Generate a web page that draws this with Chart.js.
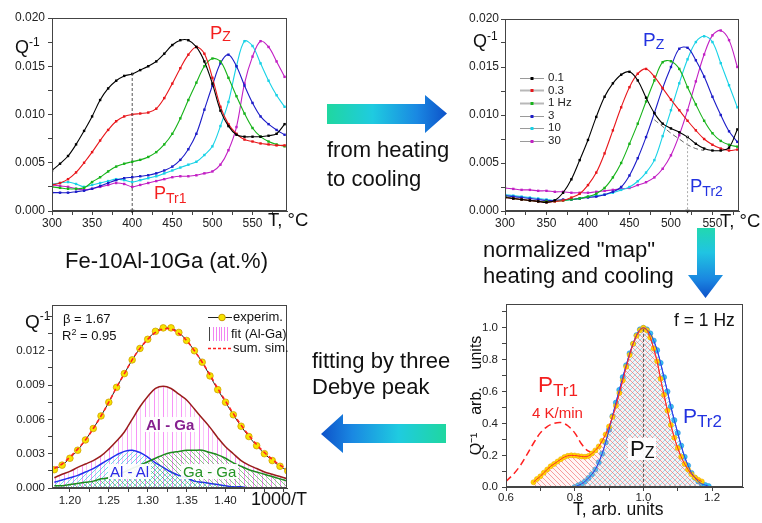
<!DOCTYPE html>
<html>
<head>
<meta charset="utf-8">
<title>Fe-10Al-10Ga internal friction</title>
<script src="https://cdn.jsdelivr.net/npm/chart.js@4.4.1/dist/chart.umd.min.js"></script>
<style>
html, body { margin: 0; padding: 0; background: #fff; }
#fig { position: relative; width: 762px; height: 523px; overflow: hidden;
       font-family: "Liberation Sans", Arial, Helvetica, sans-serif; color: #111; }
#fig canvas { position: absolute; z-index: 1; }
.t { position: absolute; white-space: nowrap; line-height: 1; z-index: 2; }
.lb { position: relative; }
.wb { background: rgba(255,255,255,0.92); padding: 0 2px; }
.yl { position: absolute; white-space: nowrap; line-height: 1; z-index: 3; font-size: 11.5px; color: #222; text-align: right; }
</style>
</head>
<body>
<div id="fig">
  <canvas id="cHeat" width="300" height="235" style="left:0px;top:0px"></canvas>
  <canvas id="cCool" width="302" height="235" style="left:460px;top:0px"></canvas>
  <canvas id="cFit" width="300" height="233" style="left:0px;top:290px"></canvas>
  <canvas id="cMap" width="292" height="228" style="left:470px;top:295px"></canvas>

  <svg width="762" height="523" style="position:absolute;left:0;top:0;pointer-events:none;z-index:1">
    <defs>
      <linearGradient id="gRight" gradientUnits="userSpaceOnUse" x1="327" y1="0" x2="447" y2="0">
        <stop offset="0" stop-color="#1fd7a0"/>
        <stop offset="0.38" stop-color="#1fcbe0"/>
        <stop offset="0.75" stop-color="#1a88e2"/>
        <stop offset="1" stop-color="#0d52c9"/>
      </linearGradient>
      <linearGradient id="gDown" gradientUnits="userSpaceOnUse" x1="0" y1="228" x2="0" y2="298">
        <stop offset="0" stop-color="#22d8b0"/>
        <stop offset="0.35" stop-color="#20c4e2"/>
        <stop offset="0.75" stop-color="#1a84e0"/>
        <stop offset="1" stop-color="#0d50c8"/>
      </linearGradient>
      <linearGradient id="gLeft" gradientUnits="userSpaceOnUse" x1="446" y1="0" x2="321" y2="0">
        <stop offset="0" stop-color="#1fd7a0"/>
        <stop offset="0.38" stop-color="#1fcbe0"/>
        <stop offset="0.75" stop-color="#1a88e2"/>
        <stop offset="1" stop-color="#0d52c9"/>
      </linearGradient>
    </defs>
    <polygon points="327,104 425,104 425,95 447,113.5 425,133 425,124 327,124" fill="url(#gRight)"/>
    <polygon points="697,228 715,228 715,275 723,275 705.5,298 688,275 697,275" fill="url(#gDown)"/>
    <polygon points="446,424 343,424 343,414 321,434 343,453 343,443 446,443" fill="url(#gLeft)"/>
  </svg>

  <!-- heating panel labels -->
  <div class="t" style="left:15px;top:38px;font-size:18px">Q<span class="lb" style="font-size:12px;top:-7px">-1</span></div>
  <div class="t" style="left:210px;top:24px;font-size:18.5px;color:#f41f1f">P<span class="lb" style="font-size:14px;top:2px">Z</span></div>
  <div class="t" style="left:154px;top:184px;font-size:18px;color:#f41f1f">P<span class="lb" style="font-size:14px;top:4px">Tr1</span></div>
  <div class="t" style="left:268px;top:211px;font-size:18.5px">T, °C</div>

  <!-- cooling panel labels -->
  <div class="t" style="left:473px;top:32px;font-size:18px">Q<span class="lb" style="font-size:12px;top:-7px">-1</span></div>
  <div class="t" style="left:643px;top:30px;font-size:19px;color:#2232e0">P<span class="lb" style="font-size:14px;top:3px">Z</span></div>
  <div class="t" style="left:690px;top:177px;font-size:18.5px;color:#2232e0">P<span class="lb" style="font-size:14px;top:4px">Tr2</span></div>
  <div class="t" style="left:720px;top:212px;font-size:18.5px">T, °C</div>
  <div class="t" style="left:548px;top:72px;font-size:11.5px;color:#222">0.1</div>
  <div class="t" style="left:548px;top:84.5px;font-size:11.5px;color:#222">0.3</div>
  <div class="t" style="left:548px;top:97px;font-size:11.5px;color:#222">1 Hz</div>
  <div class="t" style="left:548px;top:109.5px;font-size:11.5px;color:#222">3</div>
  <div class="t" style="left:548px;top:122px;font-size:11.5px;color:#222">10</div>
  <div class="t" style="left:548px;top:135px;font-size:11.5px;color:#222">30</div>

  <!-- captions between the panels -->
  <div class="t" style="left:327px;top:139px;font-size:22px">from heating</div>
  <div class="t" style="left:327px;top:168px;font-size:22px">to cooling</div>
  <div class="t" style="left:65px;top:250px;font-size:22px">Fe-10Al-10Ga (at.%)</div>
  <div class="t" style="left:483px;top:239px;font-size:22px">normalized "map"</div>
  <div class="t" style="left:483px;top:265px;font-size:22px">heating and cooling</div>
  <div class="t" style="left:312px;top:350px;font-size:22px">fitting by three</div>
  <div class="t" style="left:312px;top:376px;font-size:22px">Debye peak</div>

  <!-- fit panel labels -->
  <div class="t" style="left:25px;top:312px;font-size:19px">Q<span class="lb" style="font-size:12px;top:-8px">-1</span></div>
  <div class="t" style="left:63px;top:312px;font-size:13px">β = 1.67</div>
  <div class="t" style="left:62px;top:329px;font-size:13px">R<span class="lb" style="font-size:9px;top:-5px">2</span> = 0.95</div>
  <div class="t" style="left:233px;top:309.5px;font-size:13px">experim.</div>
  <div class="t" style="left:231px;top:326.5px;font-size:13px">fit (Al-Ga)</div>
  <div class="t" style="left:233px;top:340.5px;font-size:13px">sum. sim.</div>
  <div class="t wb" style="left:144px;top:417px;font-size:15px;font-weight:bold;color:#86208f">Al - Ga</div>
  <div class="t wb" style="left:108px;top:464px;font-size:15px;color:#2a2ae6">Al - Al</div>
  <div class="t wb" style="left:181px;top:464px;font-size:15px;color:#259325">Ga - Ga</div>
  <div class="t" style="left:251px;top:490px;font-size:18px">1000/T</div>

  <!-- normalized map labels -->
  <div class="t" style="left:674px;top:312px;font-size:17.5px">f = 1 Hz</div>
  <div class="t" style="left:538px;top:374px;font-size:22.5px;color:#f41f1f">P<span class="lb" style="font-size:17px;top:4px">Tr1</span></div>
  <div class="t" style="left:532px;top:405px;font-size:15px;color:#f41f1f">4 K/min</div>
  <div class="t" style="left:683px;top:405px;font-size:21px;color:#2232e0">P<span class="lb" style="font-size:17px;top:3.5px">Tr2</span></div>
  <div class="t wb" style="left:628px;top:438px;font-size:22px">P<span class="lb" style="font-size:16px;top:1.5px">Z</span></div>
  <div class="t" style="left:573px;top:501px;font-size:17.5px">T, arb. units</div>
</div>

<script>
// ---------- heating run: internal friction vs temperature ----------
const heatT = [300,310,320,330,340,350,360,370,380,390,400,410,420,430,440,450,460,470,480,490,500,510,520,530,540,550,560,570,580,590];
const heat0_1Hz = [.0042,.0049,.0057,.0069,.0083,.0098,.0115,.0127,.0135,.0140,.0142,.0146,.0150,.0155,.0163,.0172,.0177,.0177,.0170,.0155,.0132,.0104,.0088,.0079,.0077,.0077,.0077,.0078,.0080,.0090];
const heat0_3Hz = [.0027,.0029,.0033,.0040,.0050,.0061,.0073,.0084,.0093,.0098,.0100,.0101,.0102,.0106,.0117,.0132,.0148,.0162,.0170,.0163,.0138,.0108,.0090,.0080,.0074,.0072,.0070,.0069,.0068,.0068];
const heat1Hz   = [.0025,.0024,.0023,.0023,.0024,.0030,.0035,.0041,.0046,.0049,.0051,.0053,.0056,.0061,.0069,.0080,.0096,.0115,.0133,.0150,.0158,.0155,.0138,.0119,.0101,.0086,.0077,.0072,.0069,.0067];
const heat3Hz   = [.0019,.0019,.0019,.0020,.0021,.0023,.0026,.0029,.0032,.0034,.0035,.0036,.0037,.0039,.0042,.0046,.0053,.0064,.0080,.0105,.0130,.0153,.0162,.0150,.0130,.0112,.0098,.0090,.0084,.0079];
const heat10Hz  = [.0028,.0029,.0030,.0028,.0025,.0027,.0029,.0031,.0033,.0032,.0030,.0032,.0034,.0036,.0039,.0042,.0045,.0048,.0051,.0058,.0067,.0088,.0113,.0150,.0176,.0171,.0153,.0135,.0120,.0108];
const heat30Hz  = [.0027,.0026,.0025,.0023,.0022,.0023,.0025,.0027,.0029,.0028,.0025,.0027,.0029,.0031,.0033,.0035,.0036,.0036,.0037,.0039,.0041,.0048,.0063,.0087,.0132,.0160,.0176,.0170,.0155,.0139];
const trans1T = [400, 400];
const trans1Q = [0.0143, 0];

// ---------- cooling run ----------
const coolT = [300,310,320,330,340,350,360,370,380,390,400,410,420,430,440,450,460,470,480,490,500,510,520,530,540,550,560,570,580];
const cool0_1Hz = [.0014,.0013,.0012,.0011,.0010,.0009,.0011,.0019,.0033,.0053,.0074,.0098,.0119,.0133,.0142,.0145,.0136,.0118,.0102,.0091,.0086,.0082,.0077,.0070,.0065,.0063,.0063,.0066,.0085];
const cool0_3Hz = [.0014,.0013,.0012,.0011,.0010,.0009,.0010,.0011,.0014,.0018,.0027,.0040,.0060,.0084,.0108,.0129,.0143,.0148,.0140,.0128,.0116,.0105,.0094,.0084,.0075,.0069,.0065,.0063,.0064];
const cool1Hz   = [.0015,.0013,.0012,.0011,.0010,.0010,.0010,.0011,.0012,.0013,.0015,.0018,.0024,.0035,.0050,.0070,.0091,.0114,.0136,.0155,.0156,.0148,.0129,.0111,.0094,.0081,.0073,.0069,.0067];
const cool3Hz   = [.0016,.0015,.0014,.0013,.0012,.0011,.0011,.0012,.0012,.0013,.0014,.0015,.0017,.0020,.0025,.0037,.0055,.0077,.0102,.0128,.0150,.0169,.0170,.0157,.0140,.0119,.0100,.0083,.0072];
const cool10Hz  = [.0017,.0016,.0015,.0014,.0013,.0012,.0011,.0011,.0012,.0013,.0015,.0016,.0017,.0019,.0022,.0025,.0031,.0040,.0053,.0078,.0105,.0133,.0158,.0176,.0182,.0176,.0154,.0131,.0108];
const cool30Hz  = [.0024,.0023,.0022,.0022,.0021,.0021,.0020,.0020,.0019,.0019,.0019,.0020,.0021,.0022,.0023,.0024,.0027,.0030,.0035,.0044,.0058,.0079,.0105,.0135,.0163,.0183,.0188,.0178,.0150];
const baseT = [480,490,500,510,520,530,540];
const baseQ = [.0095,.0088,.0081,.0075,.0069,.0065,.0063];
const trans2T = [520, 520];
const trans2Q = [0.0079, 0];
const freqLabels = ['0.1', '0.3', '1 Hz', '3', '10', '30'];

// ---------- Debye-peak decomposition (1000/T) ----------
const invT = [1.18,1.19,1.20,1.21,1.22,1.23,1.24,1.25,1.26,1.27,1.28,1.29,1.30,1.31,1.32,1.33,1.34,1.35,1.36,1.37,1.38,1.39,1.40,1.41,1.42,1.43,1.44,1.45,1.46,1.47,1.48];
const qExperim = [.0016,.0020,.0026,.0033,.0042,.0052,.0063,.0075,.0088,.0100,.0112,.0122,.0130,.0137,.0140,.0140,.0136,.0129,.0120,.0110,.0098,.0086,.0075,.0064,.0054,.0045,.0037,.0030,.0024,.0019,.0015];
const qSumSim  = [.0017,.0021,.0027,.0034,.0042,.0052,.0063,.0075,.0088,.0100,.0112,.0122,.0130,.0136,.0139,.0139,.0135,.0129,.0120,.0110,.0099,.0087,.0076,.0065,.0055,.0046,.0038,.0031,.0025,.0020,.0016];
const qAlGa    = [.0009,.0012,.00145,.0018,.0021,.0024,.0028,.0034,.0041,.0049,.0060,.0071,.0080,.0087,.0089,.0087,.0082,.0077,.0069,.0061,.0053,.0044,.0036,.0030,.0024,.0020,.0017,.0014,.0012,.0010,.0008];
const qAlAl    = [.0005,.0007,.0009,.0011,.0014,.0017,.0021,.0025,.0029,.0032,.0033,.0031,.0027,.0022,.0018,.0014,.0011,.0009,.0006,.0005,.0004,.0003,.0002,.0001,.0001,0,0,0,0,0,0];
const qGaGa    = [.0002,.0002,.0003,.0004,.0005,.0006,.0008,.0009,.0012,.0014,.0017,.0020,.0023,.0026,.0029,.0031,.0032,.0033,.0033,.0033,.0031,.0029,.0026,.0022,.0019,.0016,.0014,.0012,.0010,.0008,.0006];

// ---------- normalized map, f = 1 Hz ----------
const normHeatT = [0.68,0.69,0.70,0.71,0.72,0.73,0.74,0.75,0.76,0.77,0.78,0.79,0.80,0.81,0.82,0.83,0.84,0.85,0.86,0.87,0.88,0.89,0.90,0.91,0.92,0.93,0.94,0.95,0.96,0.97,0.98,0.99,1.00,1.01,1.02,1.03,1.04,1.05,1.06,1.07,1.08,1.09,1.10,1.11,1.12,1.13,1.14,1.15,1.16,1.17];
const normHeatQ = [.03,.05,.067,.09,.11,.13,.145,.16,.175,.188,.196,.199,.198,.195,.192,.19,.195,.21,.23,.255,.29,.33,.38,.44,.51,.59,.67,.755,.83,.90,.95,.985,1.0,.985,.94,.87,.79,.68,.58,.48,.39,.31,.245,.19,.145,.11,.08,.06,.045,.035];
const normCoolT = [0.80,0.81,0.82,0.83,0.84,0.85,0.86,0.87,0.88,0.89,0.90,0.91,0.92,0.93,0.94,0.95,0.96,0.97,0.98,0.99,1.00,1.01,1.02,1.03,1.04,1.05,1.06,1.07,1.08,1.09,1.10,1.11,1.12,1.13,1.14,1.15,1.16,1.17,1.18,1.19];
const normCoolQ = [0,.01,.02,.035,.056,.08,.11,.155,.21,.28,.36,.445,.53,.61,.69,.765,.84,.90,.954,.99,1.0,.99,.965,.92,.86,.78,.69,.60,.505,.42,.34,.26,.19,.135,.088,.058,.035,.02,.012,.005];
const tr1SlowT = [0.60,0.62,0.64,0.66,0.68,0.70,0.72,0.74,0.76,0.78,0.80,0.82,0.84,0.86];
const tr1SlowQ = [.035,.077,.13,.20,.275,.34,.38,.40,.405,.385,.34,.27,.225,.215];
const peakZT = [1, 1];
const peakZQ = [0, 1];

// ---------- tick values and labels ----------
const tempTicks = [300,325,350,375,400,425,450,475,500,525,550,575];
const tempTickLabels = ['300','','350','','400','','450','','500','','550',''];
const qTicks = [0,0.0025,0.005,0.0075,0.01,0.0125,0.015,0.0175,0.02];
const qTickLabels = ['0.000','','0.005','','0.010','','0.015','','0.020'];
const invTTicks = [1.2,1.225,1.25,1.275,1.3,1.325,1.35,1.375,1.4,1.425,1.45,1.475];
const invTTickLabels = ['1.20','','1.25','','1.30','','1.35','','1.40','','',''];
const fitQTicks = [0,0.0015,0.003,0.0045,0.006,0.0075,0.009,0.0105,0.012,0.0135,0.015];
const fitQTickLabels = ['0.000','','0.003','','0.006','','0.009','','0.012','',''];
const normTTicks = [0.6,0.7,0.8,0.9,1.0,1.1,1.2];
const normTTickLabels = ['0.6','','0.8','','1.0','','1.2'];
const normQTicks = [0,0.1,0.2,0.3,0.4,0.5,0.6,0.7,0.8,0.9,1.0,1.1];
const normQTickLabels = ['0.0','','0.2','','0.4','','0.6','','0.8','','1.0',''];

const FONT = '"Liberation Sans", Arial, Helvetica, sans-serif';
const seriesColors = ['#000000', '#e8161b', '#17b31a', '#1c1cc8', '#18d2e6', '#c21fc4'];

const pts = (xs, ys) => xs.map((x, i) => ({ x, y: ys[i] }));

function axis(o) {
  const labelFor = v => {
    const k = o.values.findIndex(t => Math.abs(t - v) < 1e-9);
    return k < 0 ? '' : o.labels[k];
  };
  return {
    type: 'linear', position: o.pos, min: o.min, max: o.max,
    afterBuildTicks: s => { s.ticks = o.values.map(v => ({ value: v })); },
    afterFit: s => { if (o.pos === 'bottom') s.height = o.fit; else s.width = o.fit; },
    grid: { drawOnChartArea: false, drawTicks: true, tickLength: 4, color: '#444', tickColor: '#444', tickWidth: 1 },
    border: { display: true, color: '#444', width: 1 },
    title: o.title ? { display: true, text: o.title, color: '#111', padding: { top: -3, bottom: 0 }, font: { family: FONT, size: 16 } } : { display: false },
    ticks: {
      display: !o.ownLabels, autoSkip: false, maxRotation: 0, padding: o.pad, color: '#222',
      font: { family: FONT, size: o.size },
      callback: v => labelFor(v)
    }
  };
}

const framePlugin = {
  id: 'frame',
  afterDatasetsDraw(chart) {
    const { ctx, chartArea: a } = chart;
    ctx.save();
    ctx.strokeStyle = '#444';
    ctx.lineWidth = 1;
    ctx.strokeRect(Math.round(a.left) + 0.5, Math.round(a.top) + 0.5, Math.round(a.width) - 1, Math.round(a.height) - 1);
    ctx.restore();
  }
};

// Repeating fill tiles: diagonal hatching or vertical bars
function hatch(color, kind, step, tint) {
  const c = document.createElement('canvas');
  c.width = step; c.height = step;
  const g = c.getContext('2d');
  if (tint) { g.fillStyle = tint; g.fillRect(0, 0, step, step); }
  g.strokeStyle = color;
  g.lineWidth = 1;
  g.beginPath();
  if (kind === '/') {
    g.moveTo(0, step); g.lineTo(step, 0);
    g.moveTo(-1, 1); g.lineTo(1, -1);
    g.moveTo(step - 1, step + 1); g.lineTo(step + 1, step - 1);
  } else {
    g.moveTo(0, 0); g.lineTo(step, step);
    g.moveTo(step - 1, -1); g.lineTo(step + 1, 1);
    g.moveTo(-1, step - 1); g.lineTo(1, step + 1);
  }
  g.stroke();
  return g.createPattern(c, 'repeat');
}
function bars() {
  const c = document.createElement('canvas');
  c.width = 9; c.height = 4;
  const g = c.getContext('2d');
  g.fillStyle = 'rgba(245,120,245,0.8)';
  g.fillRect(1, 0, 1, 4);
  g.fillStyle = 'rgba(245,150,245,0.55)';
  g.fillRect(5, 0, 1, 4);
  return g.createPattern(c, 'repeat');
}

function dotted(xs, ys, color) {
  return {
    data: pts(xs, ys), borderColor: color, borderWidth: 1.1, tension: 0.35,
    pointRadius: 1.7, pointStyle: 'rect', pointBackgroundColor: color, pointBorderWidth: 0, fill: false
  };
}

function marker(xs, ys, color, dash) {
  return {
    data: pts(xs, ys), borderColor: color, borderWidth: 1, borderDash: dash, tension: 0,
    pointRadius: [0, 2.6], pointStyle: 'triangle', pointRotation: 180,
    pointBackgroundColor: '#222', pointBorderWidth: 0, fill: false, clip: 8
  };
}

function baseOptions(padding, x, y) {
  return {
    responsive: false, animation: false, devicePixelRatio: 1,
    layout: { padding },
    plugins: { legend: { display: false }, tooltip: { enabled: false } },
    scales: { x, y }
  };
}

// Heating panel
new Chart(document.getElementById('cHeat'), {
  type: 'line',
  data: { datasets: [
    marker(trans1T, trans1Q, '#555', [3, 2]),
    dotted(heatT, heat0_1Hz, seriesColors[0]),
    dotted(heatT, heat0_3Hz, seriesColors[1]),
    dotted(heatT, heat1Hz, seriesColors[2]),
    dotted(heatT, heat3Hz, seriesColors[3]),
    dotted(heatT, heat10Hz, seriesColors[4]),
    dotted(heatT, heat30Hz, seriesColors[5])
  ] },
  options: baseOptions({ left: 0, right: 13, top: 18, bottom: 0 },
    axis({ pos: 'bottom', min: 300, max: 593, values: tempTicks, labels: tempTickLabels, size: 12, fit: 24, pad: 1 }),
    axis({ pos: 'left', min: 0, max: 0.02, values: qTicks, labels: qTickLabels, size: 12, fit: 52, pad: 3 })),
  plugins: [framePlugin]
});

// Cooling panel with its frequency key
const coolKey = {
  id: 'coolKey',
  afterDatasetsDraw(chart) {
    const ctx = chart.ctx;
    ctx.save();
    freqLabels.forEach((lab, i) => {
      const y = Math.round(77.7 + i * 12.6) + 0.5;
      ctx.strokeStyle = i === 1 || i === 2 ? '#b8b8b8' : '#9a9a9a';
      ctx.lineWidth = i === 1 || i === 2 ? 2 : 1;
      ctx.beginPath(); ctx.moveTo(60, y); ctx.lineTo(84, y); ctx.stroke();
      ctx.fillStyle = seriesColors[i];
      ctx.fillRect(70.5, y - 1.5, 3, 3);
    });
    ctx.restore();
  }
};
new Chart(document.getElementById('cCool'), {
  type: 'line',
  data: { datasets: [
    marker(trans2T, trans2Q, '#aaa', [2, 2]),
    { data: pts(baseT, baseQ), borderColor: '#666', borderWidth: 1, borderDash: [5, 3], pointRadius: 0, tension: 0.3, fill: false },
    dotted(coolT, cool0_1Hz, seriesColors[0]),
    dotted(coolT, cool0_3Hz, seriesColors[1]),
    dotted(coolT, cool1Hz, seriesColors[2]),
    dotted(coolT, cool3Hz, seriesColors[3]),
    dotted(coolT, cool10Hz, seriesColors[4]),
    dotted(coolT, cool30Hz, seriesColors[5])
  ] },
  options: baseOptions({ left: 0, right: 23, top: 19, bottom: 0 },
    axis({ pos: 'bottom', min: 300, max: 582, values: tempTicks, labels: tempTickLabels, size: 12, fit: 24, pad: 1 }),
    axis({ pos: 'left', min: 0, max: 0.02, values: qTicks, labels: qTickLabels, size: 12, fit: 45, pad: 2 })),
  plugins: [framePlugin, coolKey]
});

// Debye decomposition panel
const fitKey = {
  id: 'fitKey',
  afterDatasetsDraw(chart) {
    const ctx = chart.ctx;
    ctx.save();
    // experim.
    ctx.strokeStyle = '#222'; ctx.lineWidth = 1;
    ctx.beginPath(); ctx.moveTo(208, 27.5); ctx.lineTo(232, 27.5); ctx.stroke();
    ctx.fillStyle = '#f6e400'; ctx.strokeStyle = '#c99a00';
    ctx.beginPath(); ctx.arc(222, 27.5, 3.3, 0, Math.PI * 2); ctx.fill(); ctx.stroke();
    // fit (Al-Ga)
    ctx.fillStyle = '#444';
    ctx.fillRect(209, 37, 1, 14);
    ctx.fillStyle = 'rgba(240,110,240,0.85)';
    [213, 216, 219, 221, 224, 227].forEach(x => ctx.fillRect(x, 37, 1, 14));
    // sum. sim.
    ctx.strokeStyle = '#ff2020'; ctx.lineWidth = 1.5; ctx.setLineDash([3, 2]);
    ctx.beginPath(); ctx.moveTo(208, 58.5); ctx.lineTo(232, 58.5); ctx.stroke();
    ctx.restore();
  }
};
new Chart(document.getElementById('cFit'), {
  type: 'line',
  data: { datasets: [
    { data: pts(invT, qSumSim), borderColor: '#ff2020', borderWidth: 1.6, borderDash: [4, 3], pointRadius: 0, tension: 0.35, fill: false },
    { data: pts(invT, qExperim), borderColor: '#222', borderWidth: 1, tension: 0.35, pointRadius: 3.3,
      pointBackgroundColor: '#f6e400', pointBorderColor: '#d0a000', pointBorderWidth: 0.8, fill: false },
    { data: pts(invT, qGaGa), borderColor: '#1e8a1e', borderWidth: 1.5, tension: 0.35, pointRadius: 0,
      fill: 'origin', backgroundColor: hatch('rgba(40,160,40,0.55)', '\\', 5) },
    { data: pts(invT, qAlAl), borderColor: '#2230f0', borderWidth: 1.5, tension: 0.35, pointRadius: 0,
      fill: 'origin', backgroundColor: hatch('rgba(40,205,225,0.65)', '/', 5) },
    { data: pts(invT, qAlGa), borderColor: '#9a1c1c', borderWidth: 1.5, tension: 0.35, pointRadius: 0,
      fill: 'origin', backgroundColor: bars() }
  ] },
  options: baseOptions({ left: 0, right: 13, top: 15, bottom: 0 },
    axis({ pos: 'bottom', min: 1.177, max: 1.479, values: invTTicks, labels: invTTickLabels, size: 11.5, fit: 35, pad: 2 }),
    axis({ pos: 'left', min: 0, max: 0.016, values: fitQTicks, labels: fitQTickLabels, size: 11.5, fit: 52, pad: 3 })),
  plugins: [framePlugin, fitKey]
});

// Normalized heating/cooling map
const mapChart = new Chart(document.getElementById('cMap'), {
  type: 'line',
  data: { datasets: [
    { data: pts(peakZT, peakZQ), borderColor: '#555', borderWidth: 1, borderDash: [3, 2], pointRadius: 0, fill: false },
    { data: pts(normHeatT, normHeatQ), borderColor: '#ff2a2a', borderWidth: 1, tension: 0.3, pointRadius: 0, fill: false },
    { data: pts(normCoolT, normCoolQ), borderColor: '#2a3ce8', borderWidth: 1, tension: 0.3, pointRadius: 0, fill: false },
    { data: pts(normHeatT, normHeatQ), borderColor: '#ff3a3a', borderWidth: 1, tension: 0.3, pointRadius: 2.5,
      pointBackgroundColor: '#ffd800', pointBorderColor: '#f2a800', pointBorderWidth: 0.6,
      fill: 'origin', backgroundColor: hatch('rgba(238,80,80,0.55)', '\\', 5, 'rgba(255,200,200,0.18)') },
    { data: pts(normCoolT, normCoolQ), borderColor: '#2a3ce8', borderWidth: 1, tension: 0.3, pointRadius: 2.6,
      pointBackgroundColor: '#34c6f0', pointBorderColor: '#2a8ae0', pointBorderWidth: 0.6,
      fill: 'origin', backgroundColor: hatch('rgba(50,195,230,0.55)', '/', 5, 'rgba(190,240,250,0.2)') },
    { data: pts(tr1SlowT, tr1SlowQ), borderColor: '#ff2020', borderWidth: 1.5, borderDash: [7, 4], tension: 0.35, pointRadius: 0, fill: false }
  ] },
  options: baseOptions({ left: 0, right: 19, top: 9, bottom: 0 },
    axis({ pos: 'bottom', min: 0.6, max: 1.29, values: normTTicks, labels: normTTickLabels, size: 11.5, fit: 36, pad: 0 }),
    axis({ pos: 'left', min: 0, max: 1.15, values: normQTicks, labels: normQTickLabels, size: 11.5, fit: 36, pad: 4,
           ownLabels: true, title: 'Q\u207B\u00B9    arb.    units' })),
  plugins: [framePlugin]
});

// Value labels of the normalized axis as page text, placed with the scale's pixel mapping
(function placeMapLabels() {
  const fig = document.getElementById('fig');
  const cv = document.getElementById('cMap');
  const s = mapChart.scales.y;
  const left0 = parseFloat(cv.style.left), top0 = parseFloat(cv.style.top);
  normQTicks.forEach((v, i) => {
    const txt = normQTickLabels[i];
    if (!txt) return;
    const d = document.createElement('div');
    d.className = 'yl';
    d.textContent = txt;
    d.style.right = (762 - (left0 + s.right - 8)) + 'px';
    d.style.top = (top0 + s.getPixelForValue(v) - 5.6) + 'px';
    fig.appendChild(d);
  });
})();
</script>
</body>
</html>
